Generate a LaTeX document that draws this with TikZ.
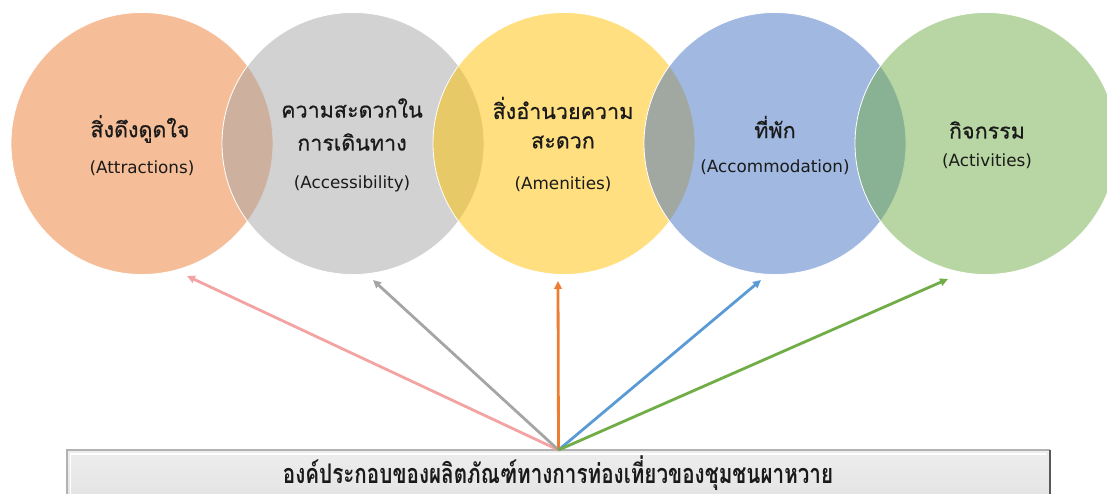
\documentclass[tikz,border=0pt]{standalone}
\usepackage{fontspec}
\usetikzlibrary{arrows.meta}
\newfontfamily\thai[Script=Thai,FakeBold=0.6]{Loma}
\newfontfamily\thaicond[Script=Thai,FakeStretch=0.765]{Loma}
\newfontfamily\latin{DejaVu Sans}
\definecolor{cOrange}{HTML}{ED7D31}
\definecolor{cGray}{HTML}{A5A5A5}
\definecolor{cYellow}{HTML}{FFC000}
\definecolor{cBlue}{HTML}{4472C4}
\definecolor{cGreen}{HTML}{70AD47}
\definecolor{aPink}{HTML}{F4A3A3}
\definecolor{aGray}{HTML}{A5A5A5}
\definecolor{aOrange}{HTML}{ED7D31}
\definecolor{aBlue}{HTML}{5B9BD5}
\definecolor{aGreen}{HTML}{70AD47}
\definecolor{txt}{HTML}{1A1A1A}
\tikzset{
  bubble/.style={circle, minimum size=262pt, inner sep=0pt, fill opacity=0.5, draw=white, draw opacity=1, line width=0.8pt},
  thline/.style={font=\thai\fontsize{21.5}{24}\selectfont, text=txt, inner sep=0pt},
  enline/.style={font=\latin\fontsize{16.8}{19}\selectfont, text=txt, inner sep=0pt},
  arr/.style={line width=2.8pt, -{Triangle[length=8pt,width=7.5pt]}},
}
\begin{document}
\begin{tikzpicture}[x=1pt,y=-1pt]
\useasboundingbox (0,0) rectangle (1107,494);
\clip (0,0) rectangle (1107,494);
% circles
\node[bubble, fill=cOrange] (c1) at (142,143.5) {};
\node[bubble, fill=cGray]   (c2) at (353,143.5) {};
\node[bubble, fill=cYellow] (c3) at (564,143.5) {};
\node[bubble, fill=cBlue]   (c4) at (775,143.5) {};
\node[bubble, fill=cGreen]  (c5) at (986,143.5) {};
% texts
\node[thline] (t1a) at (140,129) {สิ่งดึงดูดใจ};
\node[enline] (t1b) at (142,168) {(Attractions)};
\node[thline] (t2a) at (352,108) {ความสะดวกใน};
\node[thline] (t2b) at (352,142) {การเดินทาง};
\node[enline] (t2c) at (352,184) {(Accessibility)};
\node[thline] (t3a) at (563,108) {สิ่งอำนวยความ};
\node[thline] (t3b) at (563,142) {สะดวก};
\node[enline] (t3c) at (563,184) {(Amenities)};
\node[thline] (t4a) at (775,127) {ที่พัก};
\node[enline] (t4b) at (775,167) {(Accommodation)};
\node[thline] (t5a) at (987,130) {กิจกรรม};
\node[enline] (t5b) at (987,161) {(Activities)};
% bottom box
\node[draw=none, fill=none, minimum width=983pt, minimum height=70pt, inner sep=0pt, anchor=north] (base) at (558.5,450) {};
\shade[top color=gray!14, bottom color=gray!24] (67,450) rectangle (1050,520);
\draw[gray!60, line width=1.6pt] (67,520) -- (67,450) -- (1050,450);
\draw[gray!70!black, line width=2pt] (1050,450) -- (1050,520);
\draw[white, line width=1.4pt] (70.5,520) -- (70.5,454) -- (1046,454);
\node[font=\thaicond\bfseries\fontsize{27}{30}\selectfont, text=txt, inner sep=0pt] (title) at (558,473) {องค์ประกอบของผลิตภัณฑ์ทางการท่องเที่ยวของชุมชนผาหวาย};
% arrow ends
\coordinate (e1) at (187,276);
\coordinate (e2) at (373,280);
\coordinate (e3) at (558,281);
\coordinate (e4) at (761,280);
\coordinate (e5) at (948,279);
\draw[arr, aPink]   (base.north) -- (e1);
\draw[arr, aGray]   (base.north) -- (e2);
\draw[arr, aOrange] (base.north) -- (e3);
\draw[arr, aBlue]   (base.north) -- (e4);
\draw[arr, aGreen]  (base.north) -- (e5);
\end{tikzpicture}
\end{document}
